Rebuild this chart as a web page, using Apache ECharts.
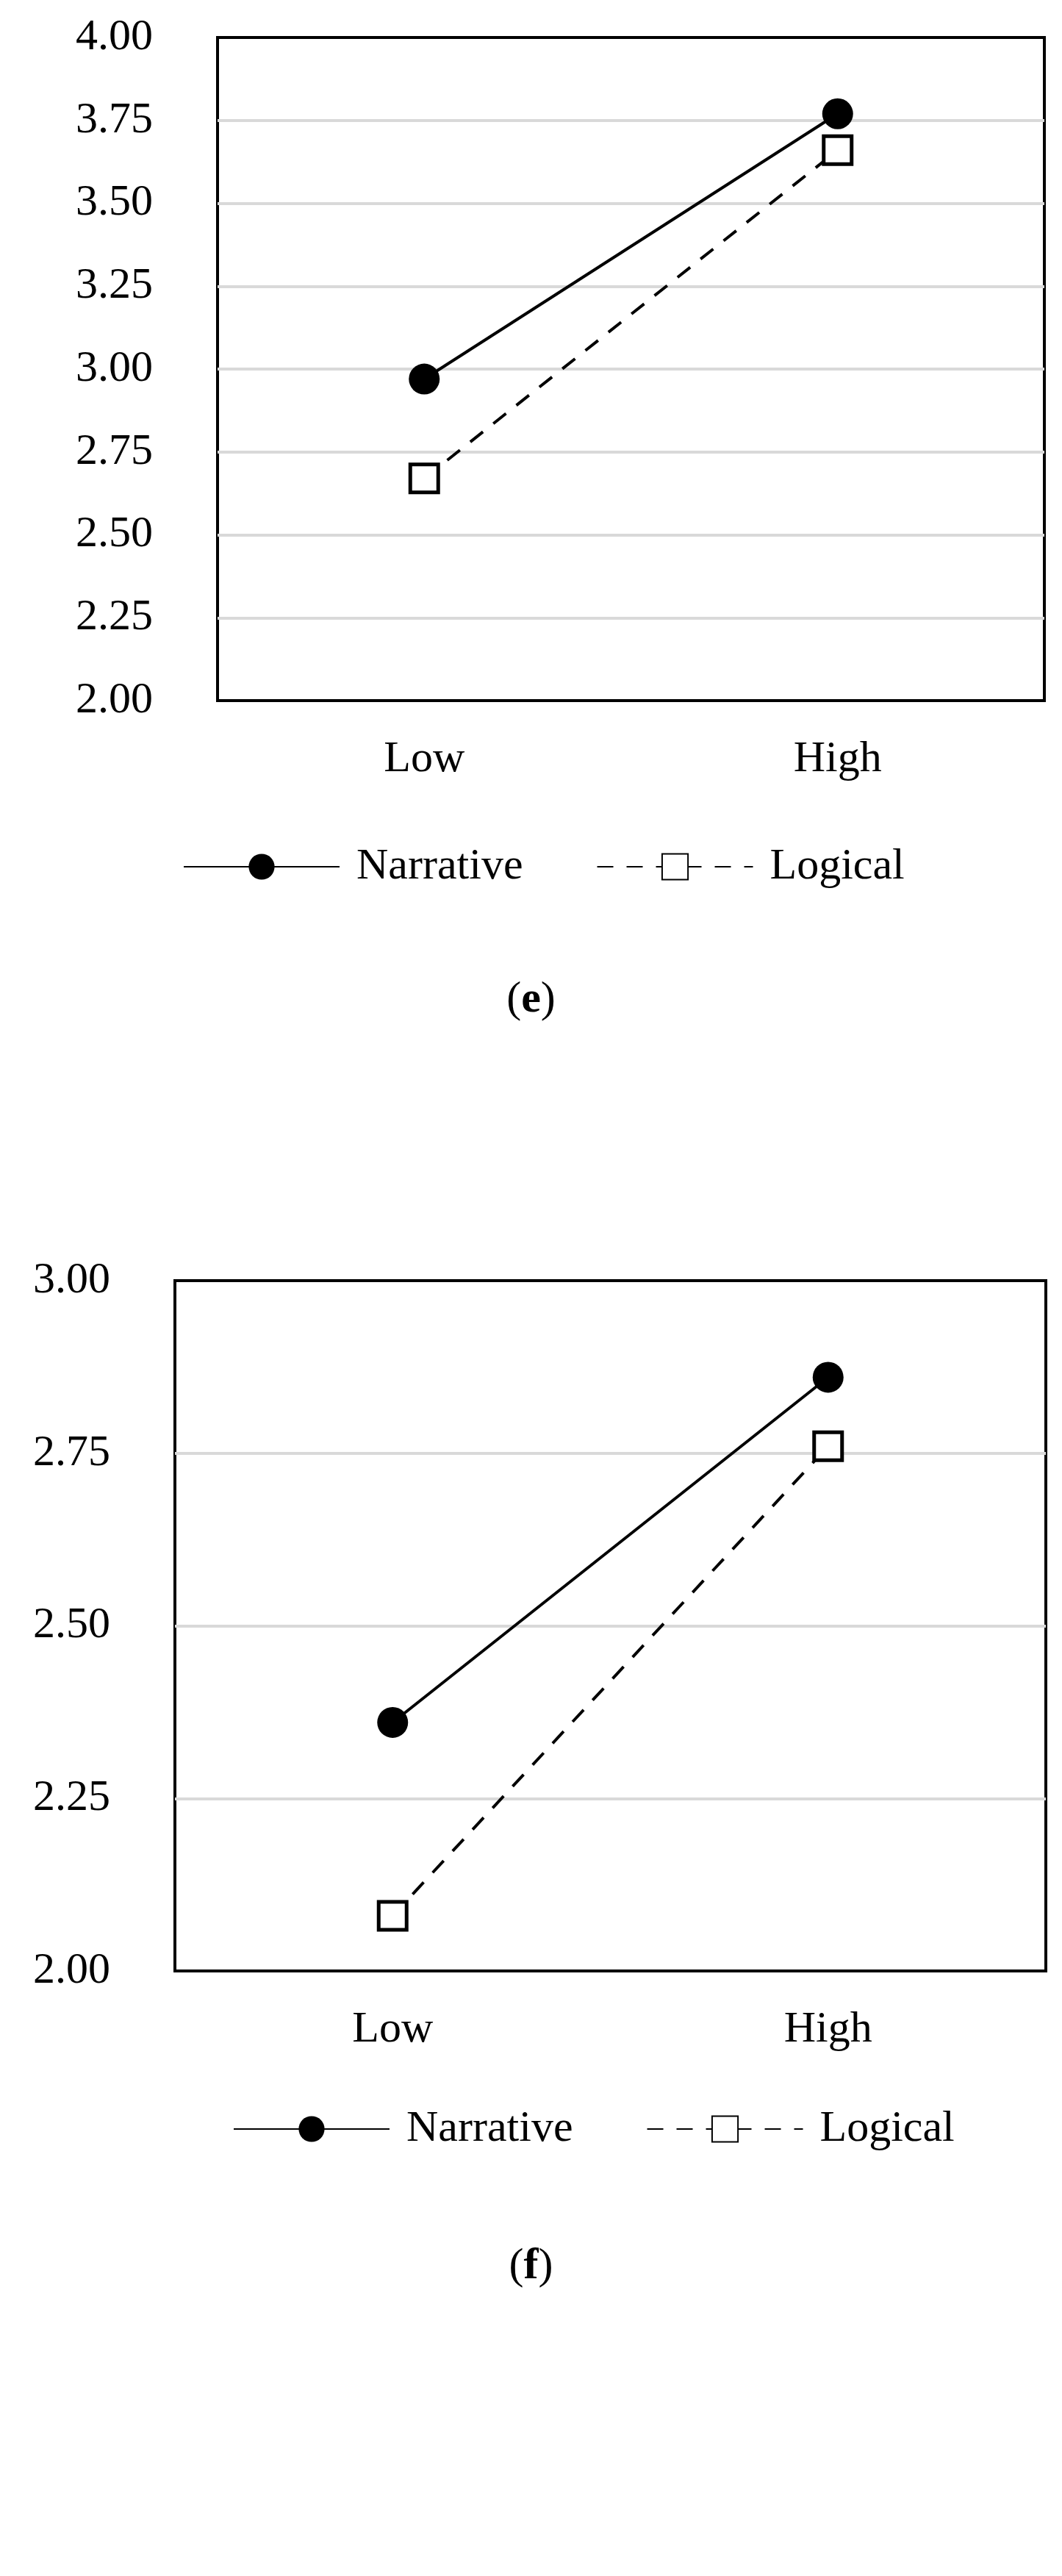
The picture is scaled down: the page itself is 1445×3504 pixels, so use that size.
<!DOCTYPE html>
<html>
<head>
<meta charset="utf-8">
<script src="https://cdn.jsdelivr.net/npm/echarts@6/dist/echarts.min.js"></script>
<style>
  html, body { margin: 0; padding: 0; background: #fff; }
  #chart { width: 1445px; height: 3504px; }
</style>
</head>
<body>
<div id="chart"></div>
<script>
// categories and values
const categories = ['Low', 'High'];
const narrativeE = [2.97, 3.77];
const logicalE = [2.67, 3.66];
const narrativeF = [2.36, 2.86];
const logicalF = [2.08, 2.76];
const yRangeE = [2, 4];
const yRangeF = [2, 3];

const chart = echarts.init(document.getElementById('chart'));
const font = 'Liberation Serif, Times New Roman, serif';

function xAxis(idx) {
    return {
        type: 'category', gridIndex: idx, data: categories,
        axisLine: { show: false }, axisTick: { show: false },
        axisLabel: { fontFamily: font, fontSize: 60, color: '#000', margin: 50 }
    };
}
function yAxis(idx, range) {
    return {
        type: 'value', gridIndex: idx, min: range[0], max: range[1], interval: 0.25,
        axisLine: { show: false }, axisTick: { show: false },
        axisLabel: { fontFamily: font, fontSize: 60, color: '#000', margin: 88,
            formatter: v => v.toFixed(2) },
        splitLine: { showMinLine: false, showMaxLine: false,
            lineStyle: { color: '#d9d9d9', width: 4 } }
    };
}
function series(name, data, idx, dashed) {
    return {
        name: name, type: 'line', data: data, xAxisIndex: idx, yAxisIndex: idx,
        symbol: dashed ? 'rect' : 'circle',
        symbolSize: dashed ? 38 : 42,
        lineStyle: { color: '#000', width: 4, type: dashed ? [22, 18] : 'solid' },
        itemStyle: dashed ? { color: '#fff', borderColor: '#000', borderWidth: 5 }
                          : { color: '#000', borderColor: '#000', borderWidth: 0 },
        z: 3
    };
}
function legend(left, top) {
    return {
        left: left, top: top, itemWidth: 212, itemHeight: 44, itemGap: 100,
        data: ['Narrative', 'Logical'],
        textStyle: { fontFamily: font, fontSize: 60, color: '#000', padding: [0, 0, 0, 18] }
    };
}
function caption(letter, top) {
    return {
        text: '{a|(}{b|' + letter + '}{a|)}', left: 'center', top: top,
        textStyle: { rich: {
            a: { fontFamily: font, fontSize: 60, color: '#000', fontWeight: 'normal' },
            b: { fontFamily: font, fontSize: 60, color: '#000', fontWeight: 'bold' }
        } }
    };
}

chart.setOption({
    animation: false,
    backgroundColor: '#fff',
    title: [caption('e', 1325), caption('f', 3048)],
    legend: [legend(244, 1144), legend(312, 2861)],
    grid: [
        { left: 296, top: 51, width: 1125, height: 902, show: true,
          borderColor: '#000', borderWidth: 4, containLabel: false },
        { left: 238, top: 1742, width: 1185, height: 939, show: true,
          borderColor: '#000', borderWidth: 4, containLabel: false }
    ],
    xAxis: [xAxis(0), xAxis(1)],
    yAxis: [yAxis(0, yRangeE), yAxis(1, yRangeF)],
    series: [
        series('Narrative', narrativeE, 0, false),
        series('Logical', logicalE, 0, true),
        series('Narrative', narrativeF, 1, false),
        series('Logical', logicalF, 1, true)
    ]
});
</script>
</body>
</html>
